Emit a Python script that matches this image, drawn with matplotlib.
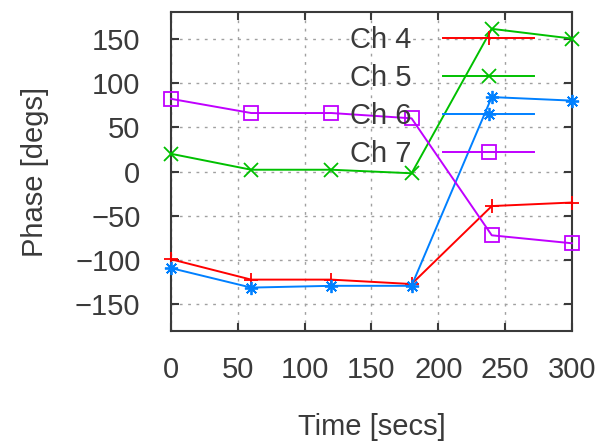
import matplotlib
matplotlib.use("Agg")
import matplotlib.pyplot as plt

plt.rcParams['font.family'] = ['Liberation Sans', 'DejaVu Sans']

time_s = [0, 60, 120, 180, 240, 300]
ch4 = [-99, -122, -122, -127, -39, -35]
ch5 = [20, 2, 2, -2, 161, 150]
ch6 = [-109, -131, -129, -129, 84, 80]
ch7 = [82, 66, 66, 60, -72, -81]

labels = ["Ch 4", "Ch 5", "Ch 6", "Ch 7"]
colors = ["#ff0000", "#00c000", "#0080ff", "#c000ff"]
markers = ["+", "x", (8, 2, 0), "s"]
series = [ch4, ch5, ch6, ch7]

x_ticks = [0, 50, 100, 150, 200, 250, 300]
y_ticks = [-150, -100, -50, 0, 50, 100, 150]

text_color = "#3a3a3a"
fs = 21

fig = plt.figure(figsize=(6.01, 4.43), dpi=100)
ax = fig.add_axes([0.2845, 0.2528, 0.9517 - 0.2845, 0.9729 - 0.2528])

for vals, lab, col, mk in zip(series, labels, colors, markers):
    ax.plot(time_s, vals, color=col, lw=1.4, marker=mk, markersize=9.5,
            markerfacecolor='none', markeredgecolor=col, markeredgewidth=1.3,
            label=lab, clip_on=False, zorder=3)

ax.set_xlim(0, 300)
ax.set_ylim(-180, 180)
ax.set_xticks(x_ticks)
ax.set_yticks(y_ticks)
ax.tick_params(direction='in', length=6, width=1.5, top=True, right=True,
               labelsize=fs, labelcolor=text_color, color=text_color)
ax.tick_params(axis='y', pad=22)
ax.tick_params(axis='x', pad=18)
ax.grid(True, color='#a0a0a0', lw=1.0, linestyle=(0, (2, 4)))
ax.set_axisbelow(True)
for sp in ax.spines.values():
    sp.set_color(text_color)
    sp.set_linewidth(1.5)

ax.set_xlabel("Time [secs]", fontsize=fs, color=text_color, labelpad=21)
ax.set_ylabel("Phase [degs]", fontsize=fs, color=text_color, labelpad=19)

leg = ax.legend(loc='upper right', bbox_to_anchor=(0.905, 0.957), frameon=False,
                markerfirst=False, numpoints=1, handlelength=3.1,
                handletextpad=1.1, labelspacing=0.35, fontsize=fs,
                borderaxespad=0, borderpad=0)
for t in leg.get_texts():
    t.set_color(text_color)
    t.set_ha('right')

fig.savefig("out.png", dpi=100)
